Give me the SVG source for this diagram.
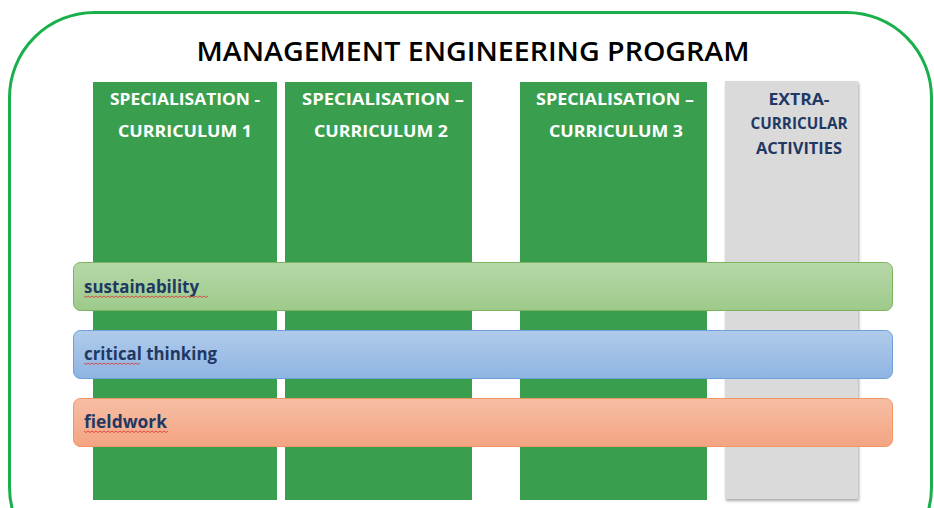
<svg xmlns="http://www.w3.org/2000/svg" width="934" height="508" viewBox="0 0 934 508">
<defs>
<linearGradient id="gG" x1="0" y1="0" x2="0" y2="1"><stop offset="0" stop-color="#b7d8a9"/><stop offset="1" stop-color="#9dca8a"/></linearGradient>
<linearGradient id="gB" x1="0" y1="0" x2="0" y2="1"><stop offset="0" stop-color="#b0cbeb"/><stop offset="1" stop-color="#8fb4e2"/></linearGradient>
<linearGradient id="gO" x1="0" y1="0" x2="0" y2="1"><stop offset="0" stop-color="#f6bea4"/><stop offset="1" stop-color="#f4a482"/></linearGradient>
<filter id="sh" x="-10%" y="-5%" width="125%" height="115%"><feGaussianBlur in="SourceAlpha" stdDeviation="1.5"/><feOffset dx="1" dy="2"/><feComponentTransfer><feFuncA type="linear" slope="0.35"/></feComponentTransfer><feMerge><feMergeNode/><feMergeNode in="SourceGraphic"/></feMerge></filter>
</defs>
<style>
.col{fill:#399f4f}
.hd{font-family:"Open Sans","Liberation Sans",sans-serif;font-weight:700;font-size:16.5px;fill:#ffffff;text-anchor:middle}
.hx{font-family:"Open Sans","Liberation Sans",sans-serif;font-weight:700;font-size:16.5px;fill:#1f3864;text-anchor:middle}
.bl{font-family:"Open Sans","Liberation Sans",sans-serif;font-weight:700;font-size:17px;fill:#1f3864}
.sq{fill:none;stroke:#e03030;stroke-width:0.8}
</style>
<rect x="0" y="0" width="934" height="508" fill="#ffffff"/>
<rect id="frame" x="9.5" y="12.5" width="922" height="560" rx="85" ry="85" fill="none" stroke="#19b04b" stroke-width="3"/>
<text x="473" y="61" font-family="Open Sans, Liberation Sans, sans-serif" font-weight="600" font-size="27" text-anchor="middle" fill="#000000" textLength="553" lengthAdjust="spacingAndGlyphs">MANAGEMENT ENGINEERING PROGRAM</text>
<g id="col1"><rect class="col" x="93" y="82" width="184" height="418"/><text class="hd" x="185" y="105" textLength="150" lengthAdjust="spacingAndGlyphs">SPECIALISATION -</text><text class="hd" x="185" y="137" textLength="134" lengthAdjust="spacingAndGlyphs">CURRICULUM 1</text></g>
<g id="col2"><rect class="col" x="285" y="82" width="187" height="418"/><text class="hd" x="383" y="105" textLength="162" lengthAdjust="spacingAndGlyphs">SPECIALISATION –</text><text class="hd" x="381" y="137" textLength="134" lengthAdjust="spacingAndGlyphs">CURRICULUM 2</text></g>
<g id="col3"><rect class="col" x="520" y="82" width="187" height="418"/><text class="hd" x="615" y="105" textLength="158" lengthAdjust="spacingAndGlyphs">SPECIALISATION –</text><text class="hd" x="616" y="137" textLength="134" lengthAdjust="spacingAndGlyphs">CURRICULUM 3</text></g>
<g id="extra"><rect x="725" y="81" width="133" height="418" fill="#dadada" filter="url(#sh)"/><text class="hx" x="799" y="105" textLength="61" lengthAdjust="spacingAndGlyphs">EXTRA-</text><text class="hx" x="799" y="129" textLength="97" lengthAdjust="spacingAndGlyphs">CURRICULAR</text><text class="hx" x="799" y="154" textLength="86" lengthAdjust="spacingAndGlyphs">ACTIVITIES</text></g>
<g id="sustainability"><rect x="73.5" y="262.5" width="819" height="48" rx="7" fill="url(#gG)" stroke="#7db35f"/><text class="bl" x="84" y="293" textLength="115" lengthAdjust="spacingAndGlyphs">sustainability</text><path class="sq" d="M84 296 l2 1.5 l2 -1.5 l2 1.5 l2 -1.5 l2 1.5 l2 -1.5 l2 1.5 l2 -1.5 l2 1.5 l2 -1.5 l2 1.5 l2 -1.5 l2 1.5 l2 -1.5 l2 1.5 l2 -1.5 l2 1.5 l2 -1.5 l2 1.5 l2 -1.5 l2 1.5 l2 -1.5 l2 1.5 l2 -1.5 l2 1.5 l2 -1.5 l2 1.5 l2 -1.5 l2 1.5 l2 -1.5 l2 1.5 l2 -1.5 l2 1.5 l2 -1.5 l2 1.5 l2 -1.5 l2 1.5 l2 -1.5 l2 1.5 l2 -1.5 l2 1.5 l2 -1.5 l2 1.5 l2 -1.5 l2 1.5 l2 -1.5 l2 1.5 l2 -1.5 l2 1.5 l2 -1.5 l2 1.5 l2 -1.5 l2 1.5 l2 -1.5 l2 1.5 l2 -1.5 l2 1.5 l2 -1.5 l2 1.5 l2 -1.5 l2 1.5 l2 -1.5"/></g>
<g id="critical"><rect x="73.5" y="330.5" width="819" height="48" rx="7" fill="url(#gB)" stroke="#6d9fd9"/><text class="bl" x="84" y="360" textLength="133" lengthAdjust="spacingAndGlyphs">critical thinking</text><path class="sq" d="M84 363 l2 1.5 l2 -1.5 l2 1.5 l2 -1.5 l2 1.5 l2 -1.5 l2 1.5 l2 -1.5 l2 1.5 l2 -1.5 l2 1.5 l2 -1.5 l2 1.5 l2 -1.5 l2 1.5 l2 -1.5 l2 1.5 l2 -1.5 l2 1.5 l2 -1.5 l2 1.5 l2 -1.5 l2 1.5 l2 -1.5 l2 1.5 l2 -1.5 l2 1.5 l2 -1.5"/></g>
<g id="fieldwork"><rect x="73.5" y="398.5" width="819" height="48" rx="7" fill="url(#gO)" stroke="#f19565"/><text class="bl" x="84" y="428" textLength="83" lengthAdjust="spacingAndGlyphs">fieldwork</text><path class="sq" d="M84 431 l2 1.5 l2 -1.5 l2 1.5 l2 -1.5 l2 1.5 l2 -1.5 l2 1.5 l2 -1.5 l2 1.5 l2 -1.5 l2 1.5 l2 -1.5 l2 1.5 l2 -1.5 l2 1.5 l2 -1.5 l2 1.5 l2 -1.5 l2 1.5 l2 -1.5 l2 1.5 l2 -1.5 l2 1.5 l2 -1.5 l2 1.5 l2 -1.5 l2 1.5 l2 -1.5 l2 1.5 l2 -1.5 l2 1.5 l2 -1.5 l2 1.5 l2 -1.5 l2 1.5 l2 -1.5 l2 1.5 l2 -1.5 l2 1.5 l2 -1.5 l2 1.5 l2 -1.5"/></g>
<g id="connectors"/>
</svg>
